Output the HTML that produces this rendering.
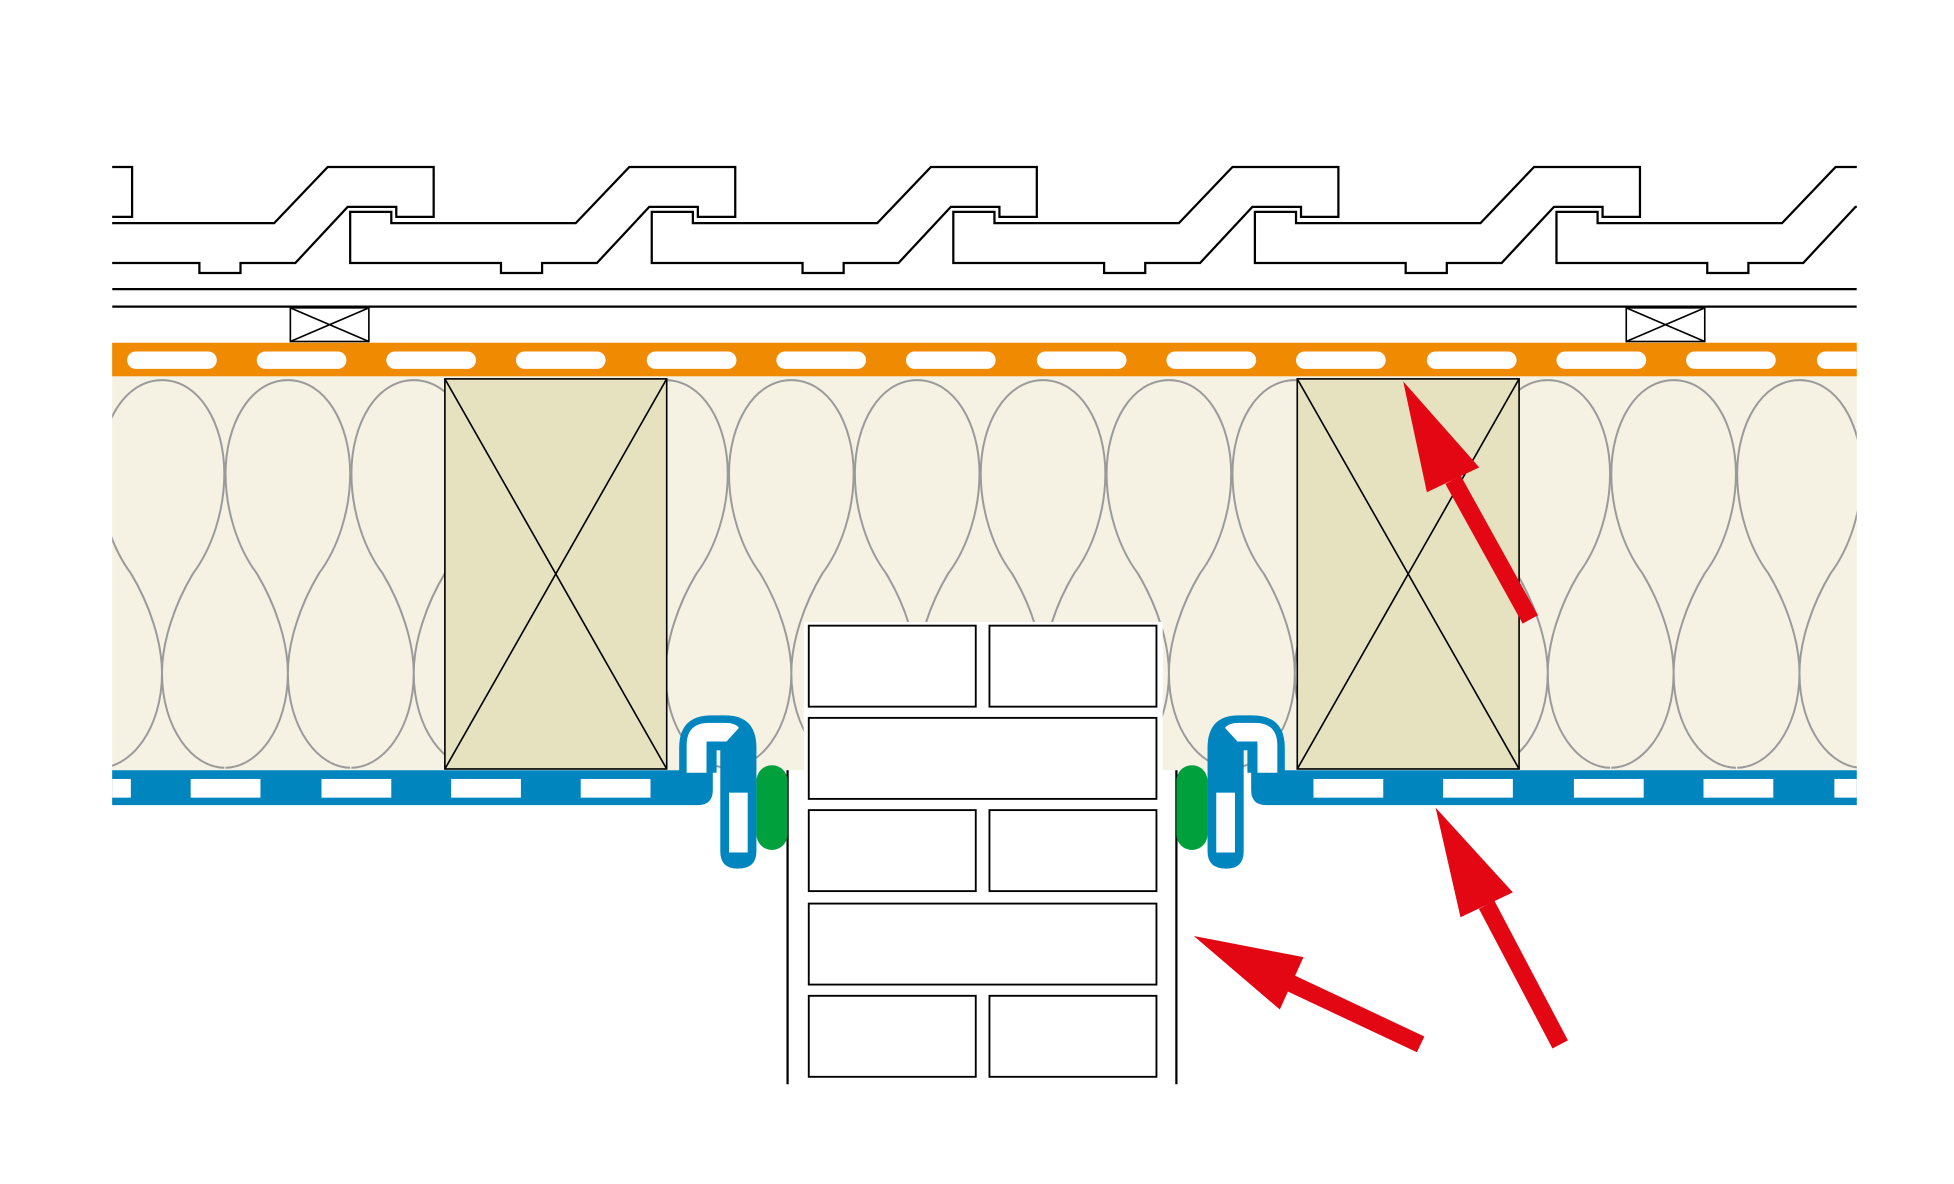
<!DOCTYPE html>
<html><head><style>html,body{margin:0;padding:0;background:#fff}svg{display:block}</style></head>
<body>
<svg width="1954" height="1184" viewBox="0 0 1568 950" preserveAspectRatio="none" xmlns="http://www.w3.org/2000/svg">
<defs>
<clipPath id="c"><rect x="90" y="100" width="1400" height="800"/></clipPath>
<clipPath id="ins"><rect x="90" y="302" width="1400" height="316"/></clipPath>
<polygon id="tile" points="281,170 314,170 314,179 462,179 505,134 590,134 590,174 560,174 560,166 521,166 479,211 435,211 435,219 402,219 402,211 281,211" fill="none" stroke="#000" stroke-width="1.8"/>
<path id="loop" d="M0,305 C30,305 50,340 50,380 C50,410 40,440 25,460 C10,485 0,515 0,540 C0,585 25,616 50,616 M0,305 C-30,305 -50,340 -50,380 C-50,410 -40,440 -25,460 C-10,485 0,515 0,540 C0,585 -25,616 -50,616" fill="none" stroke="#9a9a9a" stroke-width="1.6"/>
</defs>
<g clip-path="url(#c)">
<use href="#tile" x="-484"/><use href="#tile" x="-242"/><use href="#tile" x="0"/><use href="#tile" x="242"/><use href="#tile" x="484"/><use href="#tile" x="726"/><use href="#tile" x="968"/>
<line x1="90" y1="232" x2="1490" y2="232" stroke="#000" stroke-width="1.8"/>
<line x1="90" y1="246" x2="1490" y2="246" stroke="#000" stroke-width="1.8"/>
</g>
<g stroke="#000" stroke-width="1.3" fill="none">
<rect x="233" y="247" width="63" height="27"/><path d="M233,247 L296,274 M296,247 L233,274"/>
<rect x="1305" y="247" width="63" height="27"/><path d="M1305,247 L1368,274 M1368,247 L1305,274"/>
</g>
<rect x="90" y="275" width="1400" height="27" fill="#f08a00"/>
<g fill="#fff" clip-path="url(#c)">
<rect x="102" y="282" width="72" height="14" rx="7"/><rect x="206" y="282" width="72" height="14" rx="7"/><rect x="310" y="282" width="72" height="14" rx="7"/><rect x="414" y="282" width="72" height="14" rx="7"/><rect x="519" y="282" width="72" height="14" rx="7"/><rect x="623" y="282" width="72" height="14" rx="7"/><rect x="727" y="282" width="72" height="14" rx="7"/><rect x="832" y="282" width="72" height="14" rx="7"/><rect x="936" y="282" width="72" height="14" rx="7"/><rect x="1040" y="282" width="72" height="14" rx="7"/><rect x="1145" y="282" width="72" height="14" rx="7"/><rect x="1249" y="282" width="72" height="14" rx="7"/><rect x="1353" y="282" width="72" height="14" rx="7"/><rect x="1458" y="282" width="72" height="14" rx="7"/>
</g>
<rect x="90" y="302" width="1400" height="316" fill="#f5f2e3"/>
<g clip-path="url(#ins)">
<use href="#loop" x="29"/><use href="#loop" x="130"/><use href="#loop" x="231"/><use href="#loop" x="332"/><use href="#loop" x="433"/><use href="#loop" x="534"/><use href="#loop" x="635"/><use href="#loop" x="736"/><use href="#loop" x="837"/><use href="#loop" x="938"/><use href="#loop" x="1039"/><use href="#loop" x="1141"/><use href="#loop" x="1242"/><use href="#loop" x="1343"/><use href="#loop" x="1444"/><use href="#loop" x="1545"/>
</g>
<g stroke="#000" stroke-width="1.3">
<rect x="357" y="304" width="178" height="313" fill="#e6e2c0"/><path d="M357,304 L535,617 M535,304 L357,617" fill="none"/>
<rect x="1041" y="304" width="178" height="313" fill="#e6e2c0"/><path d="M1041,304 L1219,617 M1219,304 L1041,617" fill="none"/>
</g>
<rect x="645" y="499" width="288" height="119" fill="#fff"/>
<g fill="#fff" stroke="#000" stroke-width="1.5">
<rect x="649" y="502" width="134" height="65"/><rect x="794" y="502" width="134" height="65"/>
<rect x="649" y="576" width="279" height="65"/>
<rect x="649" y="650" width="134" height="65"/><rect x="794" y="650" width="134" height="65"/>
<rect x="649" y="725" width="279" height="65"/>
<rect x="649" y="799" width="134" height="65"/><rect x="794" y="799" width="134" height="65"/>
</g>
<g stroke="#000" stroke-width="1.8"><line x1="632" y1="618" x2="632" y2="870"/><line x1="944" y1="618" x2="944" y2="870"/></g>
<path d="M90,618 H572 V634 Q572,646 560,646 H90 Z" fill="#0085bf"/>
<path d="M1490,618 H1004 V634 Q1004,646 1016,646 H1490 Z" fill="#0085bf"/>
<g fill="#fff">
<rect x="90" y="625" width="15" height="15"/><rect x="153" y="625" width="56" height="15"/><rect x="258" y="625" width="56" height="15"/><rect x="362" y="625" width="56" height="15"/><rect x="466" y="625" width="56" height="15"/>
<rect x="1054" y="625" width="56" height="15"/><rect x="1158" y="625" width="56" height="15"/><rect x="1263" y="625" width="56" height="15"/><rect x="1367" y="625" width="56" height="15"/><rect x="1472" y="625" width="18" height="15"/>
</g>
<g id="clipL">
<path d="M545,620 V600 Q545,574 571,574 H582 Q607,574 607,600 V683 Q607,697 592,697 Q578,697 578,683 V602 H572 V620 Z" fill="#0085bf"/>
<path d="M551,620 V598 Q551,580 569,580 H582 Q590,580 593,584 L583,595 H567 V620 Z" fill="#fff"/>
<path d="M567,620 V597 H575 V620" fill="#0085bf"/>
<rect x="585" y="636" width="15" height="48" fill="#fff"/>
<rect x="607" y="614" width="25" height="68" rx="12.5" fill="#00a03c"/>
</g>
<use href="#clipL" transform="translate(1576,0) scale(-1,1)"/>
<g fill="#e30613" stroke="none">
<polygon points="1126,306 1187,375 1145,395"/>
<line x1="1166" y1="385" x2="1228" y2="497" stroke="#e30613" stroke-width="14"/>
<polygon points="1152,648 1214,716 1172,736"/>
<line x1="1193" y1="726" x2="1252" y2="838" stroke="#e30613" stroke-width="14"/>
<polygon points="958,751 1046,768 1027,810"/>
<line x1="1036" y1="789" x2="1140" y2="838" stroke="#e30613" stroke-width="14"/>
</g>
</svg>
</body></html>
